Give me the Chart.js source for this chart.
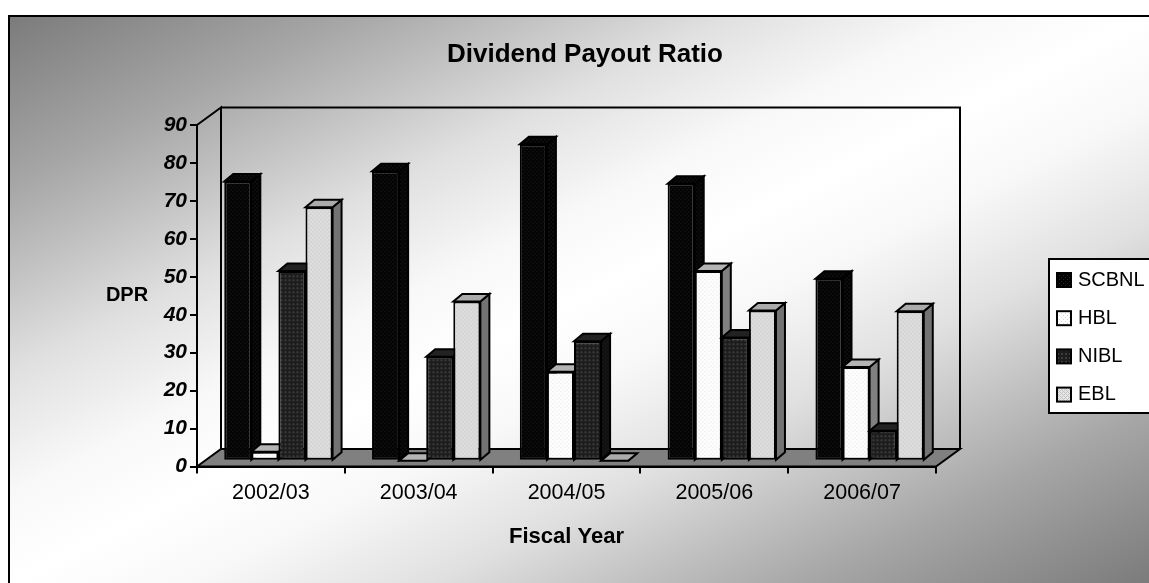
<!DOCTYPE html>
<html>
<head>
<meta charset="utf-8">
<title>Dividend Payout Ratio</title>
<script src="https://cdn.jsdelivr.net/npm/chart.js@4/dist/chart.umd.min.js"></script>
<style>
  html, body { margin: 0; padding: 0; background: #fff; }
  #wrap { position: relative; width: 1149px; height: 583px; overflow: hidden; }
</style>
</head>
<body>
<div id="wrap"><canvas id="dpr-chart"></canvas></div>
<script>
const categories = ['2002/03', '2003/04', '2004/05', '2005/06', '2006/07'];
const scbnl = [73.6, 76.3, 83.4, 73, 48];
const hbl = [2.4, 0, 23.5, 50, 24.7];
const nibl = [50, 27.4, 31.5, 32.5, 7.9];
const ebl = [66.8, 42, 0, 39.6, 39.4];
const seriesNames = ['SCBNL', 'HBL', 'NIBL', 'EBL'];
const seriesValues = [scbnl, hbl, nibl, ebl];
const yTicks = [0, 10, 20, 30, 40, 50, 60, 70, 80, 90];

const FONT = '"Liberation Sans", Arial, sans-serif';

// small repeating dot textures for the bar faces
function tile(bg, dot, cells) {
  const c = document.createElement('canvas');
  c.width = 4;
  c.height = 4;
  const g = c.getContext('2d');
  g.fillStyle = bg;
  g.fillRect(0, 0, 4, 4);
  g.fillStyle = dot;
  cells.forEach(([x, y]) => g.fillRect(x, y, 1, 1));
  return g.createPattern(c, 'repeat');
}

const blackTile = tile('#030303', '#262626', [[1, 1], [3, 3]]);
const nibTile = tile('#1c1c1c', '#3c3c3c', [[1, 1], [2, 1], [1, 2], [2, 2]]);

const faces = [
  { front: blackTile, side: blackTile, top: blackTile },
  { front: tile('#ffffff', '#dadada', [[1, 1], [3, 3]]), side: '#808080', top: '#b4b4b4' },
  { front: nibTile, side: tile('#101010', '#262626', [[1, 1], [3, 3]]), top: '#222222' },
  { front: tile('#e6e6e6', '#c4c4c4', [[0, 0], [2, 0], [0, 2], [2, 2], [1, 1], [3, 3]]), side: '#737373', top: '#ababab' }
];

// axes plane to bar plane offset, then how far each bar runs back
const BAR_SHIFT = { x: 7.5, y: -5.7 };
const BAR_DEPTH = { x: 9, y: -7.5 };
// back wall offset from the axes plane
const WALL = { x: 24, y: -17.5 };

function drawBackdrop(chart) {
  const { ctx, chartArea: a, width, height } = chart;
  const left = 9, top = 16;
  const w = width - left, h = height - top;
  const cx = left + w / 2, cy = top + h / 2;
  // white band runs along the bottom-left to top-right diagonal
  const len = Math.hypot(w, h);
  const k = (w * h) / (len * len);
  const grad = ctx.createLinearGradient(cx - h * k, cy - w * k, cx + h * k, cy + w * k);
  [[0, '#7b7b7b'], [0.15, '#a6a6a6'], [0.225, '#c0c0c0'], [0.315, '#e0e0e0'], [0.42, '#f8f8f8'], [0.5, '#ffffff'],
   [0.58, '#f8f8f8'], [0.685, '#e0e0e0'], [0.775, '#c0c0c0'], [0.85, '#a6a6a6'], [1, '#7b7b7b']]
    .forEach(([at, color]) => grad.addColorStop(at, color));

  ctx.save();
  ctx.fillStyle = '#fff';
  ctx.fillRect(0, 0, width, height);
  ctx.fillStyle = grad;
  ctx.fillRect(left, top, w, h);
  ctx.strokeStyle = '#000';
  ctx.lineWidth = 2;
  ctx.beginPath();
  ctx.moveTo(left, height + 2);
  ctx.lineTo(left, top);
  ctx.lineTo(width + 2, top);
  ctx.stroke();

  // floor
  ctx.fillStyle = '#808080';
  ctx.beginPath();
  ctx.moveTo(a.left, a.bottom);
  ctx.lineTo(a.left + WALL.x, a.bottom + WALL.y);
  ctx.lineTo(a.right + WALL.x, a.bottom + WALL.y);
  ctx.lineTo(a.right, a.bottom);
  ctx.closePath();
  ctx.fill();
  ctx.stroke();

  // back wall outline and the top edge of the side wall
  ctx.beginPath();
  ctx.moveTo(a.left, a.top);
  ctx.lineTo(a.left + WALL.x, a.top + WALL.y);
  ctx.lineTo(a.left + WALL.x, a.bottom + WALL.y);
  ctx.moveTo(a.left + WALL.x, a.top + WALL.y);
  ctx.lineTo(a.right + WALL.x, a.top + WALL.y);
  ctx.lineTo(a.right + WALL.x, a.bottom + WALL.y);
  ctx.stroke();
  ctx.restore();
}

function poly(ctx, pts, fill) {
  ctx.beginPath();
  pts.forEach(([x, y], i) => (i ? ctx.lineTo(x, y) : ctx.moveTo(x, y)));
  ctx.closePath();
  ctx.fillStyle = fill;
  ctx.fill();
  ctx.stroke();
}

function drawLegend(chart) {
  const { ctx } = chart;
  ctx.save();
  ctx.fillStyle = '#fff';
  ctx.strokeStyle = '#000';
  ctx.lineWidth = 2;
  ctx.fillRect(1049, 259, 102, 154);
  ctx.strokeRect(1049, 259, 102, 154);
  ctx.font = '20px ' + FONT;
  ctx.textBaseline = 'middle';
  seriesNames.forEach((name, i) => {
    const y = 280 + i * 38.2;
    ctx.fillStyle = faces[i].front;
    ctx.fillRect(1057, y - 7, 14, 14);
    ctx.strokeRect(1057, y - 7, 14, 14);
    ctx.fillStyle = '#000';
    ctx.fillText(name, 1078, y);
  });
  ctx.restore();
}

const bars3d = {
  id: 'bars3d',
  beforeDraw: drawBackdrop,
  afterLayout(chart) {
    // title is centred over the whole frame, not the plot
    chart.titleBlock.left = 0;
    chart.titleBlock.right = 1170;
  },
  beforeDatasetsDraw(chart) {
    const { ctx } = chart;
    ctx.save();
    ctx.translate(BAR_SHIFT.x, BAR_SHIFT.y);
    ctx.strokeStyle = '#000';
    ctx.lineWidth = 2;
    ctx.lineJoin = 'miter';
    // series go left to right so each front covers the previous bar's side
    chart.data.datasets.forEach((ds, i) => {
      chart.getDatasetMeta(i).data.forEach(el => {
        const l = el.x - el.width / 2, r = el.x + el.width / 2;
        const dx = BAR_DEPTH.x, dy = BAR_DEPTH.y;
        poly(ctx, [[r, el.y], [r + dx, el.y + dy], [r + dx, el.base + dy], [r, el.base]], faces[i].side);
        poly(ctx, [[l, el.y], [l + dx, el.y + dy], [r + dx, el.y + dy], [r, el.y]], faces[i].top);
        el.draw(ctx);
      });
    });
    ctx.restore();
    return false;
  },
  afterDraw(chart) {
    const { ctx } = chart;
    drawLegend(chart);
    ctx.save();
    ctx.fillStyle = '#000';
    ctx.font = 'bold 20px ' + FONT;
    ctx.textAlign = 'center';
    ctx.textBaseline = 'middle';
    ctx.fillText('DPR', 127, 295);
    ctx.restore();
  }
};

const canvas = document.getElementById('dpr-chart');
canvas.width = 1149;
canvas.height = 583;

new Chart(canvas, {
  type: 'bar',
  data: {
    labels: categories,
    datasets: seriesNames.map((name, i) => ({
      label: name,
      data: seriesValues[i],
      backgroundColor: faces[i].front,
      borderColor: '#000',
      borderWidth: 2,
      borderSkipped: false
    }))
  },
  options: {
    responsive: false,
    animation: false,
    categoryPercentage: 0.733,
    barPercentage: 1,
    layout: { padding: { left: 0, right: 213, top: 0, bottom: 0 } },
    plugins: {
      legend: { display: false },
      tooltip: { enabled: false },
      title: {
        display: true,
        text: 'Dividend Payout Ratio',
        color: '#000',
        font: { family: FONT, size: 26, weight: 'bold' },
        padding: { top: 39.5, bottom: 54.3 }
      }
    },
    scales: {
      x: {
        afterFit: s => { s.height = 116.5; },
        border: { color: '#000', width: 2 },
        grid: { color: '#000', lineWidth: 2, drawOnChartArea: false, tickLength: 7 },
        ticks: { color: '#000', font: { family: FONT, size: 21.5 }, padding: 7, maxRotation: 0 },
        title: {
          display: true,
          text: 'Fiscal Year',
          color: '#000',
          font: { family: FONT, size: 22, weight: 'bold' },
          padding: { top: 0, bottom: 33 }
        }
      },
      y: {
        min: 0,
        max: 90,
        afterFit: s => { s.width = 197; },
        afterBuildTicks: s => { s.ticks = yTicks.map(v => ({ value: v })); },
        border: { color: '#000', width: 2 },
        grid: { color: '#000', lineWidth: 2, drawOnChartArea: false, tickLength: 7 },
        ticks: { color: '#000', font: { family: FONT, size: 21, weight: 'bold', style: 'italic' }, padding: 3 }
      }
    }
  },
  plugins: [bars3d]
});
</script>
</body>
</html>
